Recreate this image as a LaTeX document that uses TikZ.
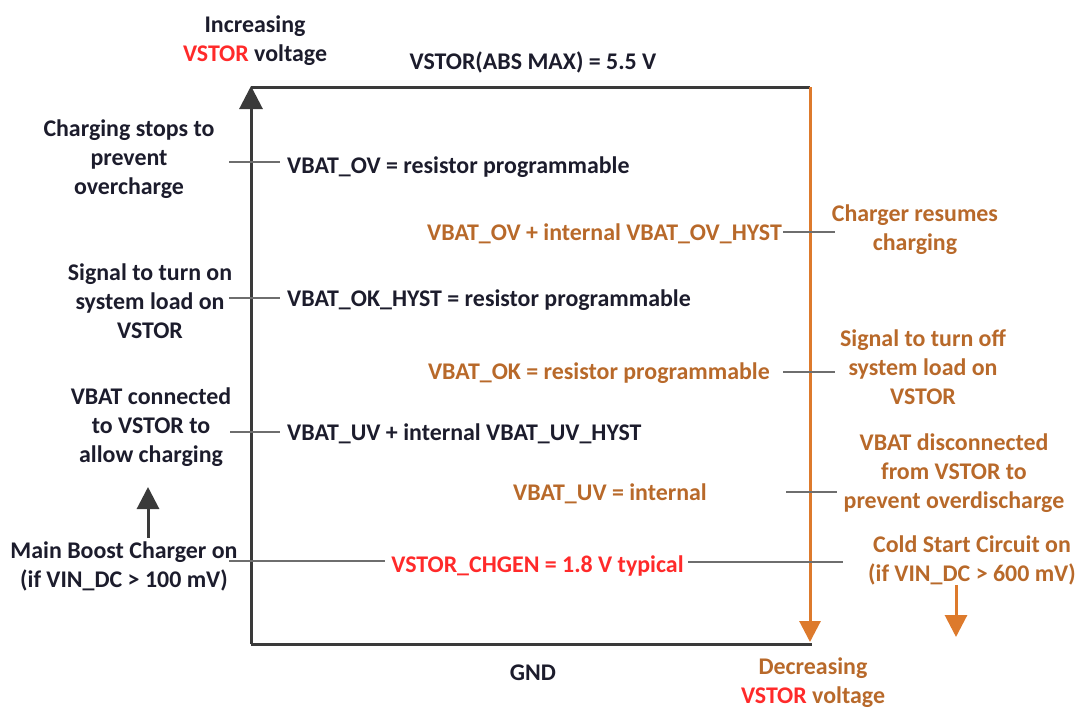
\documentclass[tikz,border=0pt]{standalone}
\usepackage{fontspec}
\setmainfont{Carlito}
\usetikzlibrary{arrows.meta}
\definecolor{ink}{HTML}{1C1C2C}
\definecolor{brn}{HTML}{B8692A}
\definecolor{org}{HTML}{DD7A2C}
\definecolor{vred}{HTML}{FF2A2A}
\definecolor{axisc}{HTML}{3A3A3A}
\definecolor{tickc}{HTML}{6E6E6E}
\begin{document}
\begin{tikzpicture}[x=1pt,y=-1pt,
  every node/.style={font=\bfseries\fontsize{23.9}{29}\selectfont, inner sep=0pt, align=center, text=ink},
  axisline/.style={draw=axisc, line width=3pt},
  orgline/.style={draw=org, line width=3pt},
  tickline/.style={draw=tickc, line width=2.5pt},
  bigtip/.style={-{Triangle[length=23pt,width=23pt]}},
  brtext/.style={text=brn},
  rdtext/.style={text=vred}]
\useasboundingbox (0,0) rectangle (1076,709);

% axes
\coordinate (bl) at (251,644);
\coordinate (tl) at (251,86);
\coordinate (tl2) at (251,87);
\coordinate (tr) at (810,87);
\coordinate (br) at (812,644);
\coordinate (brtip) at (810,642);
\draw[axisline] (bl) -- (br);
\draw[axisline] (tl2) -- (tr);
\draw[axisline, bigtip, draw=axisc, fill=axisc] (bl) -- (tl);
\draw[orgline, -{Triangle[length=21pt,width=21pt]}] (tr) -- (brtip);

% top / bottom labels
\node (inc) at (255,41) {Increasing\\{\color{vred}VSTOR} voltage};
\node[anchor=base] (absmax) at (533,70) {VSTOR(ABS MAX) = 5.5 V};
\node[anchor=base] (gnd) at (533,680) {GND};
\node[brtext] (dec) at (813,683) {Decreasing\\{\color{vred}VSTOR} voltage};

% threshold labels
\node[anchor=base west] (ov) at (287,173) {VBAT\_OV = resistor programmable};
\node[anchor=base east, brtext] (ovh) at (782,240) {VBAT\_OV + internal VBAT\_OV\_HYST};
\node[anchor=base west] (okh) at (287,306) {VBAT\_OK\_HYST = resistor programmable};
\node[anchor=base east, brtext] (ok) at (770,379) {VBAT\_OK = resistor programmable};
\node[anchor=base west] (uvh) at (287,440) {VBAT\_UV + internal VBAT\_UV\_HYST};
\node[anchor=base east, brtext] (uv) at (707,500) {VBAT\_UV = internal};
\node[anchor=base, rdtext] (chg) at (537.5,572) {VSTOR\_CHGEN = 1.8 V typical};

% side descriptions
\node (d1) at (129,159) {Charging stops to\\prevent\\overcharge};
\node (d2) at (150,301) {Signal to turn on\\system load on\\VSTOR};
\node (d3) at (151,427) {VBAT connected\\to VSTOR to\\allow charging};
\node (d4) at (124,566) {Main Boost Charger on\\(if VIN\_DC > 100 mV)};
\node[brtext] (d5) at (915,230) {Charger resumes\\charging};
\node[brtext] (d6) at (923,367) {Signal to turn off\\system load on\\VSTOR};
\node[brtext] (d7) at (954,473) {VBAT disconnected\\from VSTOR to\\prevent overdischarge};
\node[brtext] (d8) at (972,560) {Cold Start Circuit on\\(if VIN\_DC > 600 mV)};

% tick lines
\coordinate (t1a) at (229,162); \coordinate (t1b) at (280,162);
\coordinate (t2a) at (783,232); \coordinate (t2b) at (835,232);
\coordinate (t3a) at (229,298); \coordinate (t3b) at (280,298);
\coordinate (t4a) at (783,372); \coordinate (t4b) at (835,372);
\coordinate (t5a) at (230,432); \coordinate (t5b) at (280,432);
\coordinate (t6a) at (786,492); \coordinate (t6b) at (837,492);
\coordinate (t7a) at (229,561); \coordinate (t7b) at (385,561);
\coordinate (t7c) at (688,562); \coordinate (t7d) at (843,562);
\draw[tickline] (t1a) -- (t1b);
\draw[tickline] (t2a) -- (t2b);
\draw[tickline] (t3a) -- (t3b);
\draw[tickline] (t4a) -- (t4b);
\draw[tickline] (t5a) -- (t5b);
\draw[tickline] (t6a) -- (t6b);
\draw[tickline] (t7a) -- (t7b);
\draw[tickline] (t7c) -- (t7d);

% small arrows
\coordinate (ua) at (148,538); \coordinate (ub) at (148,487);
\draw[axisline, -{Triangle[length=22pt,width=22pt]}] (ua) -- (ub);
\coordinate (oa) at (956,585); \coordinate (ob) at (956,637);
\draw[orgline, -{Triangle[length=22pt,width=22pt]}] (oa) -- (ob);
\end{tikzpicture}
\end{document}
